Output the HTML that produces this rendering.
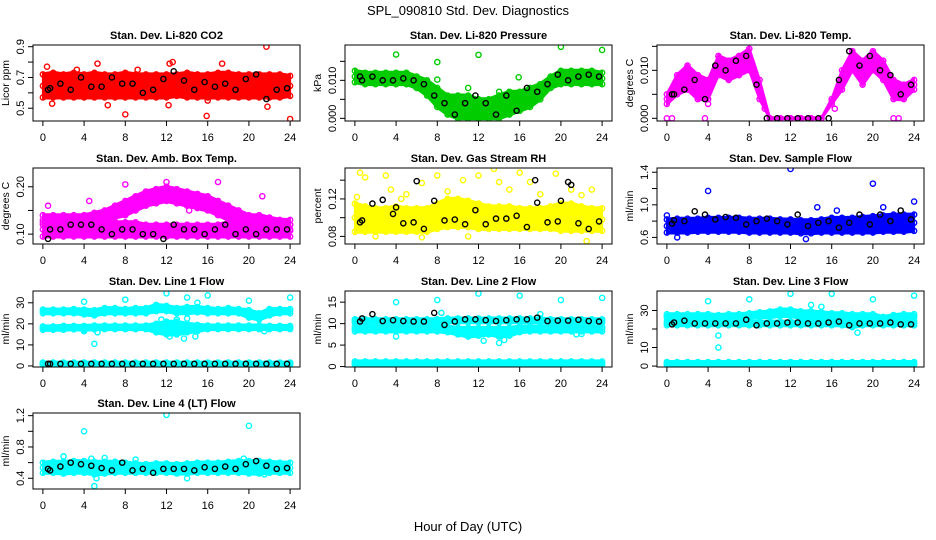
<!DOCTYPE html>
<html><head><meta charset="utf-8"><style>
html,body{margin:0;padding:0;background:#fff;}
svg{display:block;font-family:"Liberation Sans",Arial,sans-serif;}
</style></head><body>
<svg id="chart" width="936" height="540" viewBox="0 0 936 540">
<text x="468" y="15" text-anchor="middle" font-size="13">SPL_090810  Std. Dev. Diagnostics</text>
<text x="468" y="531" text-anchor="middle" font-size="13">Hour of Day (UTC)</text>
</svg>
<script>
// Shared hour categories
const hours = [0,1,2,3,4,5,6,7,8,9,10,11,12,13,14,15,16,17,18,19,20,21,22,23,24];
const xTicks = [0,4,8,12,16,20,24];

// Panel 1: Li-820 CO2
const co2Lo = [0.57,0.57,0.57,0.57,0.57,0.57,0.57,0.57,0.57,0.57,0.57,0.57,0.57,0.58,0.57,0.57,0.57,0.57,0.57,0.57,0.57,0.57,0.57,0.57,0.58];
const co2Hi = [0.72,0.73,0.72,0.73,0.72,0.73,0.72,0.72,0.73,0.72,0.72,0.72,0.72,0.72,0.73,0.72,0.72,0.73,0.73,0.72,0.72,0.72,0.72,0.72,0.71];
const co2Out = [[0.4,0.77],[0.9,0.53],[5.3,0.79],[6.3,0.52],[8,0.46],[12.3,0.79],[12.6,0.8],[12.2,0.52],[15.9,0.45],[17.4,0.79],[21.7,0.9],[21.8,0.51],[24,0.43],[16,0.55],[9.2,0.75],[3.3,0.75]];
const co2Blk = [0.62,0.63,0.66,0.62,0.70,0.64,0.64,0.70,0.66,0.66,0.60,0.62,0.69,0.74,0.68,0.62,0.67,0.64,0.66,0.62,0.69,0.72,0.56,0.62,0.63];

// Panel 2: Li-820 Pressure
const prLo = [0.0095,0.009,0.009,0.009,0.009,0.009,0.008,0.006,0.003,0.001,0.0,0.0,0.0,0.0,0.0,0.001,0.002,0.003,0.005,0.008,0.009,0.009,0.009,0.009,0.009];
const prHi = [0.0125,0.012,0.012,0.012,0.012,0.012,0.011,0.010,0.008,0.006,0.006,0.006,0.005,0.005,0.006,0.007,0.007,0.008,0.009,0.011,0.0125,0.0125,0.0125,0.0125,0.012];
const prOut = [[4,0.0168],[8,0.0148],[8,0.0102],[12,0.0167],[20,0.0188],[24,0.018],[15.9,0.0108],[11,0.008],[14,0.007]];
const prBlk = [0.011,0.010,0.011,0.010,0.010,0.0105,0.010,0.009,0.006,0.004,0.001,0.004,0.006,0.004,0.001,0.006,0.002,0.008,0.007,0.009,0.0115,0.010,0.011,0.0115,0.011];

// Panel 3: Li-820 Temp
const tpLo = [0.003,0.005,0.006,0.004,0.004,0.009,0.008,0.009,0.010,0.004,0,0,0,0,0,0,0.003,0.006,0.010,0.007,0.010,0.008,0.004,0.004,0.006];
const tpHi = [0.005,0.009,0.011,0.009,0.008,0.013,0.012,0.013,0.0145,0.008,0,0,0,0,0,0,0.004,0.010,0.014,0.012,0.014,0.012,0.008,0.007,0.008];
const tpOut = [[0,0],[0.5,0],[3.7,0],[9.5,0.002],[16.3,0.002],[22,0],[22.5,0],[4,0.003]];
const tpBlk = [0.005,0.005,0.006,0.008,0.004,0.011,0.010,0.012,0.013,0.007,0,0,0,0,0,0,0,0.008,0.014,0.011,0.013,0.010,0.009,0.005,0.007];

// Panel 4: Amb. Box Temp
const abLoA = [0.095,0.095,0.095,0.095,0.095,0.095,0.095,0.095,0.095,0.095,0.095,0.095,0.095,0.095,0.095,0.095,0.095,0.095,0.095,0.095,0.095,0.095,0.095,0.095,0.095];
const abHiA = [0.125,0.125,0.125,0.125,0.125,0.125,0.125,0.125,0.125,0.125,0.12,0.12,0.12,0.12,0.12,0.12,0.12,0.12,0.125,0.125,0.125,0.125,0.125,0.125,0.12];
const abLoB = [0.12,0.12,0.12,0.12,0.12,0.125,0.13,0.135,0.14,0.15,0.16,0.165,0.17,0.165,0.16,0.155,0.15,0.14,0.13,0.125,0.12,0.115,0.11,0.11,0.11];
const abHiB = [0.14,0.14,0.14,0.14,0.14,0.145,0.15,0.16,0.17,0.18,0.19,0.195,0.20,0.195,0.19,0.185,0.18,0.17,0.16,0.15,0.14,0.14,0.135,0.13,0.13];
const abOut = [[0.5,0.16],[4.5,0.17],[10,0.245],[12,0.21],[17,0.21],[21.3,0.18],[8,0.205],[14.2,0.15]];
const abBlk = [0.09,0.11,0.11,0.12,0.12,0.12,0.11,0.10,0.11,0.11,0.10,0.10,0.09,0.12,0.11,0.11,0.10,0.11,0.12,0.10,0.11,0.10,0.11,0.11,0.11];

// Panel 5: Gas Stream RH
const rhLo = [0.085,0.085,0.085,0.085,0.085,0.085,0.085,0.085,0.088,0.09,0.09,0.09,0.088,0.088,0.088,0.088,0.088,0.088,0.088,0.088,0.086,0.086,0.086,0.086,0.086];
const rhHi = [0.115,0.112,0.11,0.11,0.112,0.11,0.11,0.11,0.115,0.12,0.12,0.118,0.115,0.112,0.112,0.112,0.11,0.11,0.11,0.112,0.115,0.115,0.112,0.11,0.11];
const rhOut = [[0.5,0.148],[1,0.143],[3,0.145],[4.5,0.12],[6.5,0.137],[8,0.145],[9,0.128],[10.5,0.14],[12,0.145],[13.5,0.152],[14,0.138],[16,0.148],[17,0.138],[19.5,0.147],[21,0.13],[22,0.124],[23,0.13],[2,0.08],[6.5,0.079],[11,0.08],[22.5,0.075],[5,0.125],[3.5,0.13],[15,0.13],[0.2,0.122],[18,0.125]];
const rhBlk = [0.095,0.097,0.115,0.119,0.104,0.094,0.095,0.088,0.118,0.097,0.098,0.093,0.108,0.093,0.099,0.099,0.102,0.090,0.116,0.095,0.096,0.138,0.094,0.088,0.096];
const rhBlkX = [[17.5,0.14],[6,0.139],[21,0.135],[20,0.118],[4,0.111]];

// Panel 6: Sample Flow
const sfLo = [0.66,0.66,0.66,0.67,0.67,0.67,0.67,0.67,0.66,0.66,0.66,0.66,0.66,0.65,0.65,0.66,0.66,0.66,0.66,0.66,0.66,0.67,0.67,0.67,0.68];
const sfHi = [0.82,0.83,0.83,0.83,0.84,0.84,0.84,0.84,0.83,0.83,0.83,0.82,0.82,0.81,0.81,0.82,0.84,0.84,0.84,0.85,0.86,0.87,0.88,0.88,0.88];
const sfOut = [[4,1.17],[12,1.44],[20,1.26],[24,1.04],[14.6,0.97],[16.5,0.93],[1,0.6],[13.5,0.58],[21,0.97],[0,0.87]];
const sfBlk = [0.77,0.81,0.80,0.92,0.88,0.82,0.85,0.84,0.76,0.80,0.83,0.80,0.76,0.88,0.74,0.78,0.80,0.72,0.78,0.88,0.76,0.88,0.80,0.93,0.82];

// Panel 7: Line 1 Flow
const l1LoA = [0.5,0.5,0.5,0.5,0.5,0.5,0.5,0.5,0.5,0.5,0.5,0.5,0.5,0.5,0.5,0.5,0.5,0.5,0.5,0.5,0.5,0.5,0.5,0.5,0.5];
const l1HiA = [1.6,1.6,1.6,1.6,1.6,1.6,1.6,1.6,1.6,1.6,1.6,1.6,1.6,1.6,1.6,1.6,1.6,1.6,1.6,1.6,1.6,1.6,1.6,1.6,1.6];
const l1LoB = [17.2,17.2,17.2,17.4,17.2,17.4,17.5,17.5,17.5,17.5,17.5,16,15,15,16,16.5,17.5,17.5,17.5,17.5,17.5,17.5,17.5,17.5,17.5];
const l1HiB = [18.8,18.8,19,19,19,19.2,19.2,19.2,19.2,19.2,19.2,20,21,21,20,19.5,19.2,19.2,19.2,19.2,19.2,19.2,19,19,19];
const l1LoC = [25,25,25,25,24.5,24,25,25,25,25,25,26,26,25,25,25.5,25,25,25,25,23,22,24,25,25];
const l1HiC = [26.8,26.8,26.8,27,26.8,26.5,27.5,27.5,27,27.5,27.5,29,28.5,27.5,28,28,27.5,27,27.5,27,26.5,25,27,27,27];
const l1Out = [[4,30.5],[8,31.5],[12,34.5],[14,32.5],[16,33.5],[20,31],[24,32.5],[5,10.5],[4,16.5],[5.3,16],[21.5,16.5],[15,30],[13.7,13],[12.3,14],[14.8,14],[13,22],[14,22.5],[11.5,22]];
const l1Blk = [1,1,1,1,1,1,1,1,1,1,1,1,1,1,1,1,1,1,1,1,1,1,1,1,1];

// Panel 8: Line 2 Flow
const l2LoA = [0.4,0.4,0.4,0.4,0.4,0.4,0.4,0.4,0.4,0.4,0.4,0.4,0.4,0.4,0.4,0.4,0.4,0.4,0.4,0.4,0.4,0.4,0.4,0.4,0.4];
const l2HiA = [1.2,1.2,1.2,1.2,1.2,1.2,1.2,1.2,1.2,1.2,1.2,1.2,1.2,1.2,1.2,1.2,1.2,1.2,1.2,1.2,1.2,1.2,1.2,1.2,1.2];
const l2LoB = [8.2,8.2,8.2,8.2,8.2,8.2,8.2,8.2,8.2,8.0,7.5,7.0,7.2,7.5,7.0,7.2,8.0,8.2,8.2,8.2,8.2,8.2,8.2,8.2,8.2];
const l2HiB = [9.2,9.3,9.3,9.3,9.3,9.3,9.3,9.3,9.3,9.3,9.0,9.0,9.0,9.0,9.0,9.0,9.3,9.3,9.3,9.3,9.3,9.3,9.3,9.3,9.2];
const l2LoC = [10.2,10.2,10.2,10.2,10.2,10.2,10.2,10.2,10.2,10.3,10.3,10.3,10.3,10.3,10.3,10.3,10.3,10.3,10.3,10.2,10.2,10.2,10.2,10.2,10.2];
const l2HiC = [11.0,11.0,11.0,11.0,11.0,11.0,11.0,11.0,11.0,11.2,11.2,11.2,11.2,11.2,11.2,11.2,11.2,11.2,11.2,11.0,11.0,11.0,11.0,11.0,11.0];
const l2Out = [[4,15],[8,15.5],[12,17],[16,16.5],[20,15.5],[24,16],[4,7],[12.5,6],[14,5.5],[14.5,6.2],[21.5,7.5],[22,7.6],[8.4,12.5],[18,12.2]];
const l2Blk = [10.5,11.2,12.2,10.6,10.8,10.6,10.5,10.5,12.5,9.7,10.5,11.0,11.0,10.8,10.6,10.8,11.0,11.0,11.4,10.6,10.7,10.7,10.9,10.6,10.5];

// Panel 9: Line 3 Flow
const l3LoA = [0.8,0.8,0.8,0.8,0.8,0.8,0.8,0.8,0.8,0.8,0.8,0.8,0.8,0.8,0.8,0.8,0.8,0.8,0.8,0.8,0.8,0.8,0.8,0.8,0.8];
const l3HiA = [2.2,2.2,2.2,2.2,2.2,2.2,2.2,2.2,2.2,2.2,2.2,2.2,2.2,2.2,2.2,2.2,2.2,2.2,2.2,2.2,2.2,2.2,2.2,2.2,2.2];
const l3LoB = [22,22,22,22,22,22,22,22,22,22,22,22,22,22,22,22,22,22,21,22,22,22,22,22,22];
const l3HiB = [24,24,24,24,24,24,24,24,24,24,24,24,24,24,24,24,24,24,24,24,24,24,24,24,24];
const l3LoC = [26,26,26,26,26,25.5,26,26,26,26.5,26.5,27,27,26,26,26,26,26,25.5,26,25.5,24,25.5,26,26];
const l3HiC = [28,28,28,28,28,27.5,28,28,28.5,29,29.5,30.5,30.5,29.5,29.5,29,28.5,28.5,28,28,28,26.5,27.5,28,28];
const l3Out = [[4,35],[8,36],[12,39],[16,39],[20,36],[24,38],[5,16.5],[5,10],[14,33],[15,32],[18.5,18],[7.5,0.5]];
const l3Blk = [22.5,23.5,24.5,23,23,23,23,23,25,22,23,23,23.5,23.5,23,23,23.5,24,22,23,23,23,23.5,22.5,22.5];

// Panel 10: Line 4 (LT) Flow
const l4Lo = [0.47,0.47,0.46,0.47,0.47,0.45,0.46,0.47,0.47,0.47,0.47,0.47,0.47,0.46,0.46,0.47,0.47,0.47,0.47,0.47,0.46,0.46,0.47,0.47,0.47];
const l4Hi = [0.60,0.61,0.61,0.62,0.62,0.61,0.61,0.61,0.60,0.59,0.58,0.59,0.59,0.58,0.59,0.60,0.60,0.60,0.61,0.62,0.62,0.62,0.61,0.60,0.60];
const l4Out = [[4,1.0],[12,1.21],[20,1.07],[5,0.3],[5.2,0.4],[2,0.68],[6,0.66],[4.7,0.65],[19.5,0.65],[14,0.4],[21.5,0.45],[9,0.64]];
const l4Blk = [0.52,0.50,0.55,0.60,0.58,0.56,0.53,0.50,0.60,0.50,0.52,0.47,0.52,0.52,0.52,0.50,0.54,0.52,0.55,0.52,0.58,0.62,0.56,0.52,0.53];

const panels = [
 {name:'co2',title:'Stan. Dev. Li-820 CO2',ylab:'Licor ppm',c:0,r:0,ymin:0.417,ymax:0.911,ticks:[0.5,0.6,0.7,0.8,0.9],labels:{'0.5':'0.5','0.7':'0.7','0.9':'0.9'},color:'#ff0000',bands:[[co2Lo,co2Hi]],out:co2Out,blk:co2Blk,blkX:[]},
 {name:'pressure',title:'Stan. Dev. Li-820 Pressure',ylab:'kPa',c:1,r:0,ymin:-0.0007,ymax:0.0193,ticks:[0,0.005,0.01,0.015],labels:{'0':'0.000','0.01':'0.010'},color:'#00cc00',bands:[[prLo,prHi]],out:prOut,blk:prBlk,blkX:[]},
 {name:'temp',title:'Stan. Dev. Li-820 Temp.',ylab:'degrees C',c:2,r:0,ymin:-0.00056,ymax:0.01528,ticks:[0,0.005,0.01,0.015],labels:{'0':'0.000','0.01':'0.010'},color:'#ff00ff',bands:[[tpLo,tpHi]],out:tpOut,blk:tpBlk,blkX:[]},
 {name:'amb-box-temp',title:'Stan. Dev. Amb. Box Temp.',ylab:'degrees C',c:0,r:1,ymin:0.0792,ymax:0.2396,ticks:[0.1,0.15,0.2],labels:{'0.1':'0.10','0.2':'0.20'},color:'#ff00ff',bands:[[abLoA,abHiA],[abLoB,abHiB]],out:abOut,blk:abBlk,blkX:[]},
 {name:'gas-stream-rh',title:'Stan. Dev. Gas Stream RH',ylab:'percent',c:1,r:1,ymin:0.0719,ymax:0.153,ticks:[0.08,0.1,0.12,0.14],labels:{'0.08':'0.08','0.12':'0.12'},color:'#ffff00',bands:[[rhLo,rhHi]],out:rhOut,blk:rhBlk,blkX:rhBlkX},
 {name:'sample-flow',title:'Stan. Dev. Sample Flow',ylab:'ml/min',c:2,r:1,ymin:0.519,ymax:1.452,ticks:[0.6,0.8,1.0,1.2,1.4],labels:{'0.6':'0.6','1':'1.0','1.4':'1.4'},color:'#0000ff',bands:[[sfLo,sfHi]],out:sfOut,blk:sfBlk,blkX:[]},
 {name:'line1-flow',title:'Stan. Dev. Line 1 Flow',ylab:'ml/min',c:0,r:2,ymin:-0.5,ymax:35.6,ticks:[0,10,20,30],labels:{'0':'0','10':'10','20':'20','30':'30'},color:'#00ffff',bands:[[l1LoA,l1HiA],[l1LoB,l1HiB],[l1LoC,l1HiC]],out:l1Out,blk:l1Blk,blkX:[]},
 {name:'line2-flow',title:'Stan. Dev. Line 2 Flow',ylab:'ml/min',c:1,r:2,ymin:-0.1,ymax:17.6,ticks:[0,5,10,15],labels:{'0':'0','5':'5','10':'10','15':'15'},color:'#00ffff',bands:[[l2LoA,l2HiA],[l2LoB,l2HiB],[l2LoC,l2HiC]],out:l2Out,blk:l2Blk,blkX:[]},
 {name:'line3-flow',title:'Stan. Dev. Line 3 Flow',ylab:'ml/min',c:2,r:2,ymin:-0.5,ymax:40.5,ticks:[0,10,20,30],labels:{'0':'0','10':'10','30':'30'},color:'#00ffff',bands:[[l3LoA,l3HiA],[l3LoB,l3HiB],[l3LoC,l3HiC]],out:l3Out,blk:l3Blk,blkX:[]},
 {name:'line4-flow',title:'Stan. Dev. Line 4 (LT) Flow',ylab:'ml/min',c:0,r:3,ymin:0.263,ymax:1.234,ticks:[0.4,0.6,0.8,1.0,1.2],labels:{'0.4':'0.4','0.8':'0.8','1.2':'1.2'},color:'#00ffff',bands:[[l4Lo,l4Hi]],out:l4Out,blk:l4Blk,blkX:[]}
];

const NS='http://www.w3.org/2000/svg';
const svg=document.getElementById('chart');
const tops=[45,168,291,413];
function mk(tag,attrs,parent){const e=document.createElementNS(NS,tag);for(const k in attrs)e.setAttribute(k,attrs[k]);parent.appendChild(e);return e;}

panels.forEach(p=>{
  const L=33+312*p.c, W=267, T=tops[p.r], H=76;
  const xs=h=>L+(h+0.96)/25.92*W;
  const ys=v=>T+H-(v-p.ymin)/(p.ymax-p.ymin)*H;
  const g=mk('g',{},svg);
  
  
  const clip=mk('clipPath',{id:'cl-'+p.name},g);
  mk('rect',{x:L,y:T,width:W,height:H},clip);
  const pts=mk('g',{'clip-path':'url(#cl-'+p.name+')'},g);
  
  
  p.bands.forEach((b,bi)=>{
    const lo=b[0],hi=b[1];
    let d='';
    hours.forEach((h,i)=>{d+=(i?'L':'M')+xs(h).toFixed(1)+','+(ys(hi[i])-1).toFixed(1);});
    for(let i=hours.length-1;i>=0;i--){d+='L'+xs(hours[i]).toFixed(1)+','+(ys(lo[i])+1).toFixed(1);}
    const band=mk('path',{d:d+'Z',fill:p.color,stroke:p.color,'stroke-width':2,'stroke-linejoin':'round'},pts);
    
    
    hours.forEach((h,i)=>{
      [lo[i],hi[i],(lo[i]+hi[i])/2].forEach(v=>{
        const c=mk('circle',{cx:xs(h),cy:ys(v),r:2.6,fill:'none',stroke:p.color,'stroke-width':1.4},pts);
        
        
      });
    });
  });
  p.out.forEach(o=>{
    const c=mk('circle',{cx:xs(o[0]),cy:ys(o[1]),r:2.6,fill:'none',stroke:p.color,'stroke-width':1.4},pts);
    
    
  });
  const blkPts=[];
  p.blk.forEach((v,i)=>{blkPts.push([hours[i]===0?0.5:hours[i]-0.3,v]);});
  p.blkX.forEach(o=>blkPts.push(o));
  blkPts.forEach(o=>{
    const c=mk('circle',{cx:xs(o[0]),cy:ys(o[1]),r:2.6,fill:'none',stroke:'#000','stroke-width':1.4},pts);
    
    
  });
  const box=mk('rect',{x:L,y:T,width:W,height:H,fill:'none',stroke:'#000','stroke-width':1},g);
  
  
  mk('line',{x1:xs(0),x2:xs(24),y1:T+H,y2:T+H,stroke:'#000'},g);
  xTicks.forEach(t=>{
    mk('line',{x1:xs(t),x2:xs(t),y1:T+H,y2:T+H+5,stroke:'#000'},g);
    const tx=mk('text',{x:xs(t),y:T+H+20,'text-anchor':'middle','font-size':11},g);
    tx.textContent=t;
    
    
  });
  mk('line',{x1:L,x2:L,y1:ys(p.ticks[0]),y2:ys(p.ticks[p.ticks.length-1]),stroke:'#000'},g);
  p.ticks.forEach(t=>{
    mk('line',{x1:L-5,x2:L,y1:ys(t),y2:ys(t),stroke:'#000'},g);
    const lab=p.labels[String(t)];
    if(lab!==undefined){
      const tx=mk('text',{x:0,y:0,'text-anchor':'middle','font-size':11,transform:'translate('+(L-9)+','+ys(t)+') rotate(-90)'},g);
      tx.textContent=lab;
      
      
    }
  });
  const yt=mk('text',{x:0,y:0,'text-anchor':'middle','font-size':10.5,transform:'translate('+(L-24)+','+(T+H/2)+') rotate(-90)'},g);
  yt.textContent=p.ylab;
  
  
  const tt=mk('text',{x:L+W/2,y:T-6,'text-anchor':'middle','font-size':11,'font-weight':'bold'},g);
  tt.textContent=p.title;
  
  
});
</script>
</body></html>
